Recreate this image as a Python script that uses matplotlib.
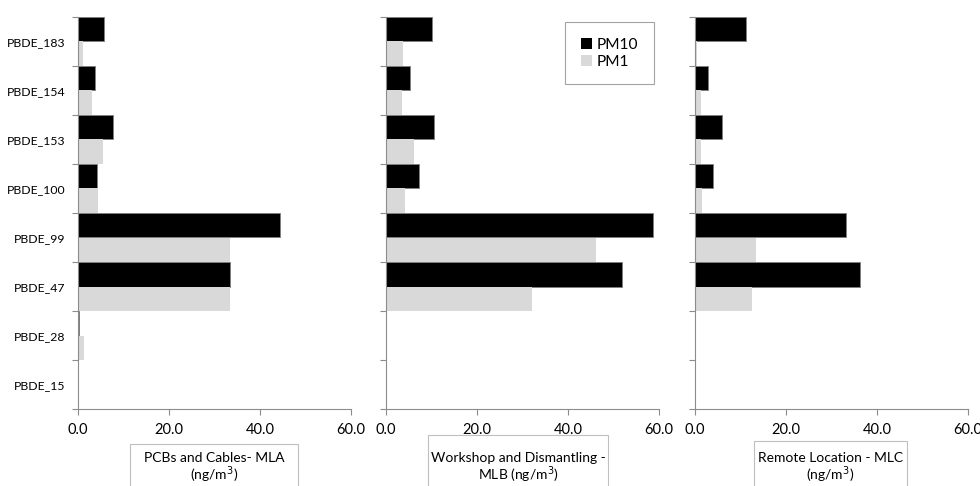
import matplotlib
matplotlib.use("Agg")
import matplotlib.pyplot as plt
from matplotlib.patches import Rectangle
import numpy as np

plt.rcParams['font.family'] = ['Lato', 'DejaVu Sans']

categories = ["PBDE_15", "PBDE_28", "PBDE_47", "PBDE_99", "PBDE_100", "PBDE_153", "PBDE_154", "PBDE_183"]

mla_pm10 = [0.0, 0.2, 33.4, 44.5, 4.2, 7.6, 3.7, 5.7]
mla_pm1 = [0.0, 1.3, 33.5, 33.3, 4.3, 5.6, 3.1, 1.0]

mlb_pm10 = [0.0, 0.0, 51.9, 58.7, 7.3, 10.6, 5.2, 10.1]
mlb_pm1 = [0.0, 0.0, 32.0, 46.2, 4.2, 6.2, 3.45, 3.8]

mlc_pm10 = [0.0, 0.0, 36.3, 33.2, 4.0, 6.0, 2.8, 11.2]
mlc_pm1 = [0.0, 0.0, 12.6, 13.5, 1.5, 1.3, 1.3, 0.4]

panel_titles = [("PCBs and Cables- MLA", "(ng/m$^3$)"),
                ("Workshop and Dismantling -", "MLB (ng/m$^3$)"),
                ("Remote Location - MLC", "(ng/m$^3$)")]
xticks = [0, 20, 40, 60]
xticklabels = ["0.0", "20.0", "40.0", "60.0"]

W, H = 980, 486
fig = plt.figure(figsize=(W / 100, H / 100), dpi=100)

lefts = [78, 386, 695]
ax_w = 273
top_px, bot_px = 17, 409
data = [(mla_pm10, mla_pm1), (mlb_pm10, mlb_pm1), (mlc_pm10, mlc_pm1)]
axis_color = "#8c8c8c"
pm1_color = "#d9d9d9"

y = np.arange(len(categories))
axes = []
for i, (l, (pm10, pm1)) in enumerate(zip(lefts, data)):
    ax = fig.add_axes([l / W, (H - bot_px) / H, ax_w / W, (bot_px - top_px) / H])
    axes.append(ax)
    ax.barh(y + 0.25, pm10, height=0.5, color="black", edgecolor="#7f7f7f", linewidth=0.6, label="PM10")
    ax.barh(y - 0.25, pm1, height=0.5, color=pm1_color, edgecolor="none", label="PM1")
    ax.set_xlim(0, 60)
    ax.set_ylim(-0.5, len(categories) - 0.5)
    ax.set_xticks(xticks)
    ax.set_xticklabels(xticklabels, fontsize=10.5)
    ax.set_yticks(np.arange(-0.5, len(categories), 1.0), minor=False)
    ax.set_yticklabels([])
    ax.set_yticks(y, minor=True)
    if i == 0:
        ax.set_yticklabels(categories, minor=True, fontsize=8.8)
    else:
        ax.set_yticklabels([], minor=True)
    ax.tick_params(axis="y", which="major", length=4, color=axis_color, direction="out")
    ax.tick_params(axis="y", which="minor", length=0, pad=9)
    ax.tick_params(axis="x", which="major", length=4, color=axis_color, direction="out", pad=6)
    for s in ["top", "right"]:
        ax.spines[s].set_visible(False)
    for s in ["left", "bottom"]:
        ax.spines[s].set_color(axis_color)
        ax.spines[s].set_linewidth(0.8)
    ax.set_facecolor("none")

# Axis title boxes
boxes = [(130, 298, 444), (428, 608, 435), (754, 907, 441)]
for (x0, x1, yt), (line1, line2) in zip(boxes, panel_titles):
    rect = Rectangle((x0 / W, -0.05), (x1 - x0) / W, (H - yt) / H + 0.05,
                     transform=fig.transFigure, facecolor="white", edgecolor="#bfbfbf", linewidth=0.8)
    fig.patches.append(rect)
    cx = (x0 + x1) / 2 / W
    fig.text(cx, (H - 458) / H, line1, ha="center", va="center", fontsize=10)
    fig.text(cx, (H - 475) / H, line2, ha="center", va="center", fontsize=10)

# Legend
leg = axes[1].legend(loc="upper left",
                     bbox_to_anchor=((565 - 386) / ax_w, 1 - (22 - 17) / (bot_px - top_px)),
                     borderaxespad=0, frameon=True, fontsize=11.2, handlelength=0.75, handleheight=0.75,
                     handletextpad=0.3, borderpad=1.0, labelspacing=0.2, fancybox=False)
leg.get_frame().set_edgecolor("#8c8c8c")
leg.get_frame().set_linewidth(0.8)
for h in leg.legend_handles:
    h.set_edgecolor("none")

fig.savefig("out.png", dpi=100)
